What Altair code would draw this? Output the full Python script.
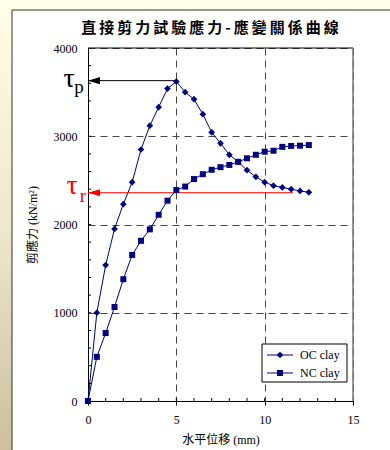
import altair as alt
import pandas as pd

# ---------------- data ----------------
x_mm = [0, 0.5, 1.0, 1.5, 2.0, 2.5, 3.0, 3.5, 4.0, 4.5, 5.0, 5.5, 6.0,
        6.5, 7.0, 7.5, 8.0, 8.5, 9.0, 9.5, 10.0, 10.5, 11.0, 11.5, 12.0, 12.5]
oc_clay = [0, 1000, 1540, 1950, 2230, 2480, 2850, 3120, 3330, 3540, 3620, 3500, 3420,
           3250, 3045, 2920, 2790, 2710, 2615, 2540, 2480, 2440, 2420, 2400, 2380, 2365]
nc_clay = [0, 500, 770, 1065, 1380, 1655, 1815, 1945, 2110, 2270, 2390, 2430, 2515,
           2570, 2620, 2650, 2675, 2710, 2750, 2790, 2825, 2836, 2880, 2890, 2893, 2900]
series_names = ["OC clay", "NC clay"]
series_shapes = ["diamond", "square"]
series_sizes = [45, 36]

x_ticks = [0, 5, 10, 15]
y_ticks = [0, 1000, 2000, 3000, 4000]
x_minor = [1, 2, 3, 4, 5, 6, 7, 8, 9, 10, 11, 12, 13, 14]
y_minor = [200, 400, 600, 800, 1000, 1200, 1400, 1600, 1800, 2000, 2200, 2400, 2600,
           2800, 3000, 3200, 3400, 3600, 3800]

tau_p = 3630
tau_p_x = 5.0
tau_r = 2360
tau_r_x = 11.6

title_text = "直接剪力試驗應力-應變關係曲線"
x_title = "水平位移 (mm)"
y_title = "剪應力 (kN/m²)"

NAVY = "#000080"
SERIF = "Liberation Serif"
MIXED = "'Liberation Serif', 'Noto Sans CJK TC'"

W, H = 265, 353
xs = alt.Scale(domain=[0, 15], nice=False, zero=False)
ys = alt.Scale(domain=[0, 4000], nice=False)

axis_common = dict(labelFont=SERIF, labelFontSize=12, labelColor="black",
                   domainColor="black", domainWidth=1, tickColor="black",
                   titleFont=MIXED, titleFontSize=12, titleFontWeight="normal",
                   titleColor="black", grid=True, gridDash=[7, 5],
                   gridColor="#444444", gridWidth=1, labelFlush=False, format="d")
XAX = alt.Axis(values=x_ticks, title=x_title, tickSize=4,
               labelPadding=9, titlePadding=9, **axis_common)
YAX = alt.Axis(values=y_ticks, title=y_title, tickSize=0,
               labelPadding=11, titlePadding=14, **axis_common)


def X(f):
    return alt.X(f, scale=xs, axis=XAX)


def Y(f):
    return alt.Y(f, scale=ys, axis=YAX)


df = pd.DataFrame({
    "x": x_mm + x_mm,
    "y": oc_clay + nc_clay,
    "s": [series_names[0]] * len(x_mm) + [series_names[1]] * len(x_mm),
})
one = pd.DataFrame({"a": [0]})

# ---------------- decorations (slide frame) ----------------
grad = alt.LinearGradient(
    gradient="linear",
    stops=[alt.GradientStop(color="#FFFEE6", offset=0),
           alt.GradientStop(color="#EEE8CC", offset=0.5),
           alt.GradientStop(color="#CDBF9F", offset=1)],
    x1=0, x2=0, y1=0, y2=1)
left_strip = alt.Chart(one).mark_rect(color=grad).encode(
    x=alt.value(-88), x2=alt.value(-76), y=alt.value(-48), y2=alt.value(402))
top_strip = alt.Chart(one).mark_rect(color="#FFFEE6").encode(
    x=alt.value(-88), x2=alt.value(302), y=alt.value(-48), y2=alt.value(-38))
frame_v = alt.Chart(one).mark_rule(color="#333333", strokeWidth=1).encode(
    x=alt.value(-76), y=alt.value(-38), y2=alt.value(402))
frame_h = alt.Chart(one).mark_rule(color="#333333", strokeWidth=1).encode(
    x=alt.value(-76), x2=alt.value(302), y=alt.value(-38))

title = alt.Chart(pd.DataFrame({"t": ["\u2009".join(list(title_text))]})).mark_text(
    font="Noto Sans CJK TC", fontWeight="bold", fontSize=15, color="black",
    align="center", baseline="middle").encode(
    x=alt.value(122), y=alt.value(-20), text="t:N")

# ---------------- main plot ----------------
lines = alt.Chart(df).mark_line(color=NAVY, strokeWidth=1).encode(
    x=X("x:Q"), y=Y("y:Q"), detail="s:N")

point_layers = []
for name, shp, sz in zip(series_names, series_shapes, series_sizes):
    point_layers.append(
        alt.Chart(df).transform_filter(alt.datum.s == name).mark_point(
            shape=shp, filled=True, size=sz, color=NAVY, opacity=1).encode(
            x=X("x:Q"), y=Y("y:Q")))

# minor ticks (inside)
xm = alt.Chart(pd.DataFrame({"x": x_minor})).mark_rule(color="black", strokeWidth=1).encode(
    x=X("x:Q"), y=alt.value(H), y2=alt.value(H - 3))
ym = alt.Chart(pd.DataFrame({"y": y_minor})).mark_rule(color="black", strokeWidth=1).encode(
    y=Y("y:Q"), x=alt.value(0), x2=alt.value(3))

# frame top / right
top_line = alt.Chart(one).mark_rule(color="black", strokeWidth=1).encode(
    x=alt.value(0), x2=alt.value(W), y=alt.value(0))
right_line = alt.Chart(one).mark_rule(color="#777777", strokeWidth=1.5).encode(
    x=alt.value(W), y=alt.value(0), y2=alt.value(H))

# ---------------- tau annotations ----------------
arr = pd.DataFrame({"x": [0, 0], "x1": [tau_p_x, tau_r_x], "y": [tau_p, tau_r],
                    "c": ["black", "red"]})
arrow_rules = alt.Chart(arr).mark_rule(strokeWidth=1).encode(
    x=X("x:Q"), x2="x1:Q", y=Y("y:Q"),
    color=alt.Color("c:N", scale=None))
arrow_heads = alt.Chart(arr).mark_point(
    shape="M0,0L2,-0.6L2,0.6Z", filled=True, size=144, opacity=1).encode(
    x=X("x:Q"), y=Y("y:Q"),
    color=alt.Color("c:N", scale=None))

tp_main = alt.Chart(pd.DataFrame({"y": [tau_p], "t": ["τ"]})).mark_text(
    font=SERIF, fontSize=28, color="black", align="center", baseline="alphabetic", dy=6).encode(
    x=alt.value(-19), y=Y("y:Q"), text="t:N")
tp_sub = alt.Chart(pd.DataFrame({"y": [tau_p], "t": ["p"]})).mark_text(
    font=SERIF, fontSize=19, color="black", align="center", baseline="alphabetic", dy=12).encode(
    x=alt.value(-9), y=Y("y:Q"), text="t:N")
tr_main = alt.Chart(pd.DataFrame({"y": [tau_r], "t": ["τ"]})).mark_text(
    font=SERIF, fontSize=28, color="red", align="center", baseline="alphabetic", dy=1).encode(
    x=alt.value(-16), y=Y("y:Q"), text="t:N")
tr_sub = alt.Chart(pd.DataFrame({"y": [tau_r], "t": ["r"]})).mark_text(
    font=SERIF, fontSize=19, color="red", align="center", baseline="alphabetic", dy=9).encode(
    x=alt.value(-5), y=Y("y:Q"), text="t:N")

# ---------------- manual legend ----------------
legend_layers = [alt.Chart(one).mark_rect(fill="white", stroke="black", strokeWidth=1).encode(
    x=alt.value(174), x2=alt.value(259), y=alt.value(296), y2=alt.value(334))]
for i, (name, shp, sz) in enumerate(zip(series_names, series_shapes, series_sizes)):
    yy = 307 + 18 * i
    legend_layers.append(alt.Chart(one).mark_rule(color=NAVY, strokeWidth=1).encode(
        x=alt.value(179), x2=alt.value(205), y=alt.value(yy)))
    legend_layers.append(alt.Chart(one).mark_point(
        shape=shp, filled=True, size=sz, color=NAVY, opacity=1).encode(
        x=alt.value(192), y=alt.value(yy)))
    legend_layers.append(alt.Chart(pd.DataFrame({"t": [name]})).mark_text(
        font=SERIF, fontSize=12, color="black", align="left", baseline="middle").encode(
        x=alt.value(212), y=alt.value(yy), text="t:N"))

chart = alt.layer(
    lines, left_strip, top_strip, frame_v, frame_h, title,
    xm, ym, top_line, right_line,
    arrow_rules, arrow_heads, tp_main, tp_sub, tr_main, tr_sub,
    *point_layers, *legend_layers,
).properties(
    width=W, height=H,
    autosize=alt.AutoSizeParams(type="none"),
    padding={"left": 88, "top": 48, "right": 37, "bottom": 49},
    background="white",
).configure_view(stroke=None)

chart.save("out.html", embed_options={"renderer": "svg", "actions": False})
